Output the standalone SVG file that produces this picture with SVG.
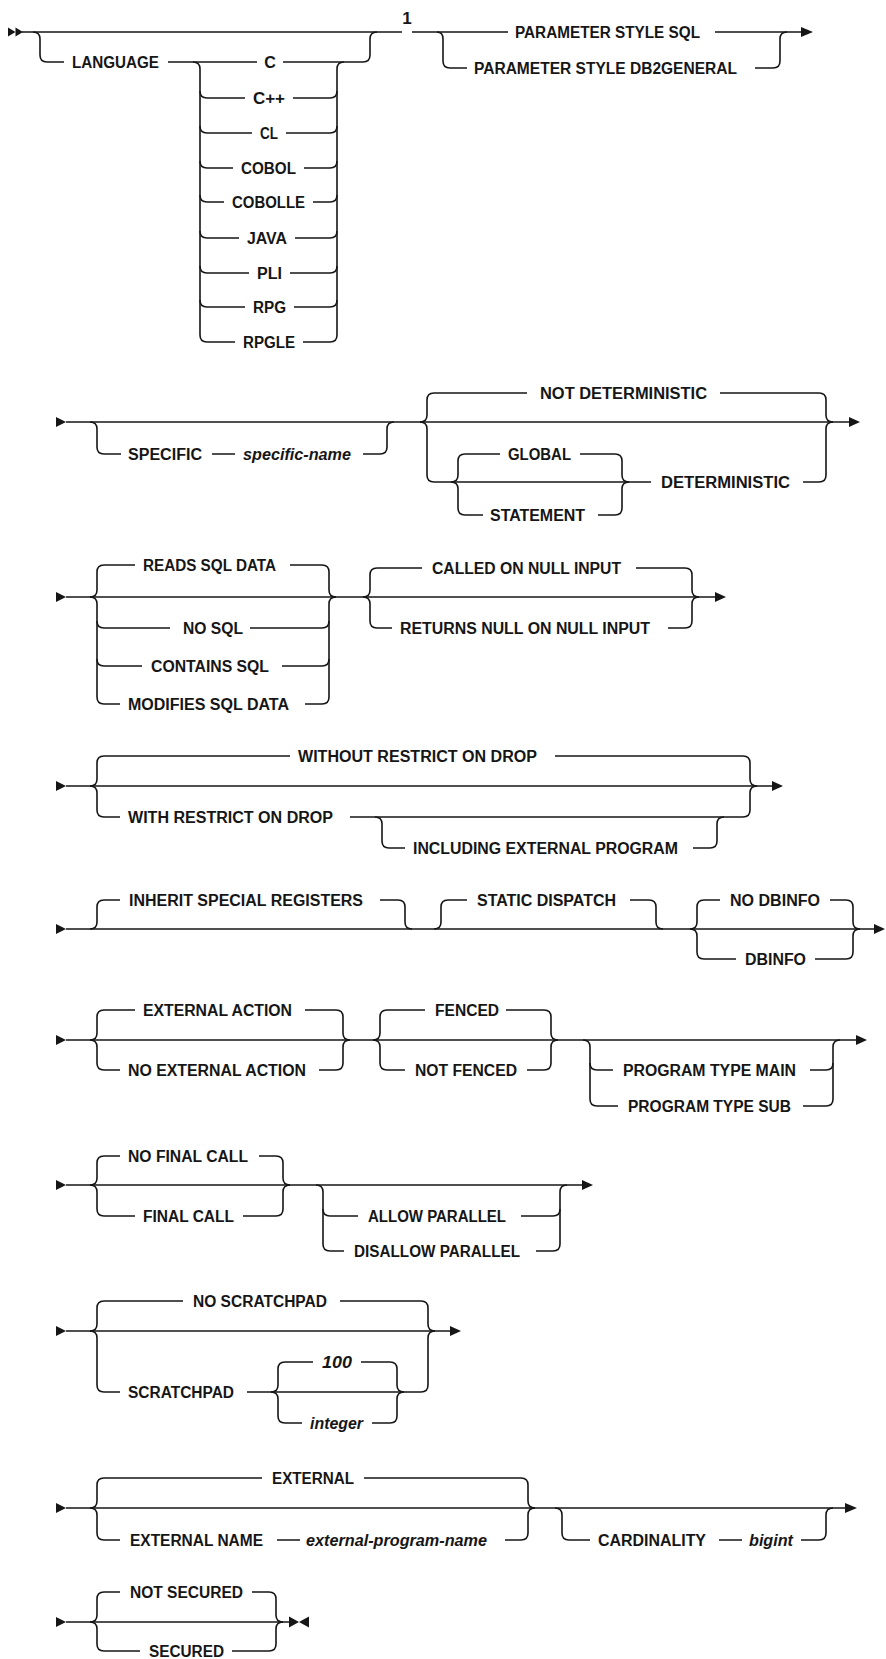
<svg xmlns="http://www.w3.org/2000/svg" width="886" height="1659" viewBox="0 0 886 1659">
<style>
.t{font-family:"Liberation Sans",Arial,sans-serif;font-size:16px;font-weight:bold;fill:#161616;text-anchor:middle}
.i{font-style:italic}
.c{fill:none;stroke:#161616;stroke-width:1.6}
.a{fill:#161616;stroke:none}
</style>
<rect width="886" height="1659" fill="#ffffff"/>
<g id="connectors">
<!-- row 1 -->
<polygon class="a" points="8,27.5 15.5,32 8,36.5"/><polygon class="a" points="15.5,27.5 23,32 15.5,36.5"/>
<path class="c" d="M22,32 H402 M412,32 H508 M715,32 H802"/>
<polygon class="a" points="801,27 813,32 801,37"/>
<path class="c" d="M33,32 Q40,32 40,39 V55 Q40,62 47,62 H64"/>
<path class="c" d="M168,62 H257 M283,62 H363 Q370,62 370,55 V39 Q370,32 377,32"/>
<path class="c" d="M193,62 Q200,62 200,69 V335 Q200,342 207,342 H235"/>
<path class="c" d="M303,342 H330 Q337,342 337,335 V69 Q337,62 344,62"/>
<path class="c" d="M200,91 Q200,98 207,98 H245 M293,98 H330 Q337,98 337,91"/>
<path class="c" d="M200,126 Q200,133 207,133 H252 M286,133 H330 Q337,133 337,126"/>
<path class="c" d="M200,161 Q200,168 207,168 H233 M304,168 H330 Q337,168 337,161"/>
<path class="c" d="M200,195 Q200,202 207,202 H224 M313,202 H330 Q337,202 337,195"/>
<path class="c" d="M200,231 Q200,238 207,238 H239 M295,238 H330 Q337,238 337,231"/>
<path class="c" d="M200,266 Q200,273 207,273 H249 M290,273 H330 Q337,273 337,266"/>
<path class="c" d="M200,300 Q200,307 207,307 H245 M294,307 H330 Q337,307 337,300"/>
<path class="c" d="M437,32 Q443,32 443,39 V61 Q443,68 450,68 H467 M755,68 H773 Q780,68 780,61 V39 Q780,32 787,32"/>
<!-- row 2 -->
<polygon class="a" points="56,417 66,422 56,427"/>
<path class="c" d="M66,422 H849"/>
<polygon class="a" points="849,417 860,422 849,427"/>
<path class="c" d="M90,422 Q97,422 97,429 V447 Q97,454 104,454 H121 M212,454 H235 M363,454 H380 Q387,454 387,447 V429 Q387,422 394,422"/>
<path class="c" d="M420,422 Q427,422 427,415 V400 Q427,393 434,393 H527 M720,393 H819 Q826,393 826,400 V415 Q826,422 833,422"/>
<path class="c" d="M420,422 Q427,422 427,429 V475 Q427,482 434,482 H651 M803,482 H819 Q826,482 826,475 V429 Q826,422 833,422"/>
<path class="c" d="M451,482 Q458,482 458,475 V461 Q458,454 465,454 H500 M580,454 H615 Q622,454 622,461 V475 Q622,482 629,482"/>
<path class="c" d="M451,482 Q458,482 458,489 V508 Q458,515 465,515 H483 M598,515 H615 Q622,515 622,508 V489 Q622,482 629,482"/>
<!-- row 3 -->
<polygon class="a" points="56,592 66,597 56,602"/>
<path class="c" d="M66,597 H715"/>
<polygon class="a" points="715,592 726,597 715,602"/>
<path class="c" d="M90,597 Q97,597 97,590 V572 Q97,565 104,565 H135 M290,565 H322 Q329,565 329,572 V590 Q329,597 336,597"/>
<path class="c" d="M90,597 Q97,597 97,604 V697 Q97,704 104,704 H120 M305,704 H322 Q329,704 329,697 V604 Q329,597 336,597"/>
<path class="c" d="M97,621 Q97,628 104,628 H170 M250,628 H322 Q329,628 329,621"/>
<path class="c" d="M97,659 Q97,666 104,666 H142 M282,666 H322 Q329,666 329,659"/>
<path class="c" d="M363,597 Q370,597 370,590 V575 Q370,568 377,568 H422 M636,568 H685 Q692,568 692,575 V590 Q692,597 699,597"/>
<path class="c" d="M363,597 Q370,597 370,604 V621 Q370,628 377,628 H392 M668,628 H685 Q692,628 692,621 V604 Q692,597 699,597"/>
<!-- row 4 -->
<polygon class="a" points="56,781 66,786 56,791"/>
<path class="c" d="M66,786 H772"/>
<polygon class="a" points="772,781 783,786 772,791"/>
<path class="c" d="M90,786 Q97,786 97,779 V763 Q97,756 104,756 H290 M555,756 H743 Q750,756 750,763 V779 Q750,786 757,786"/>
<path class="c" d="M90,786 Q97,786 97,793 V810 Q97,817 104,817 H120 M350,817 H743 Q750,817 750,810 V793 Q750,786 757,786"/>
<path class="c" d="M375,817 Q382,817 382,824 V841 Q382,848 389,848 H405 M693,848 H710 Q717,848 717,841 V824 Q717,817 724,817"/>
<!-- row 5 -->
<polygon class="a" points="56,924 66,929 56,934"/>
<path class="c" d="M66,929 H874"/>
<polygon class="a" points="874,924 885,929 874,934"/>
<path class="c" d="M90,929 Q97,929 97,922 V907 Q97,900 104,900 H120 M380,900 H398 Q405,900 405,907 V922 Q405,929 412,929"/>
<path class="c" d="M434,929 Q441,929 441,922 V907 Q441,900 448,900 H467 M630,900 H649 Q656,900 656,907 V922 Q656,929 663,929"/>
<path class="c" d="M690,929 Q697,929 697,922 V907 Q697,900 704,900 H720 M830,900 H846 Q853,900 853,907 V922 Q853,929 860,929"/>
<path class="c" d="M690,929 Q697,929 697,936 V952 Q697,959 704,959 H736 M815,959 H846 Q853,959 853,952 V936 Q853,929 860,929"/>
<!-- row 6 -->
<polygon class="a" points="56,1035 66,1040 56,1045"/>
<path class="c" d="M66,1040 H856"/>
<polygon class="a" points="856,1035 867,1040 856,1045"/>
<path class="c" d="M90,1040 Q97,1040 97,1033 V1017 Q97,1010 104,1010 H135 M305,1010 H336 Q343,1010 343,1017 V1033 Q343,1040 350,1040"/>
<path class="c" d="M90,1040 Q97,1040 97,1047 V1063 Q97,1070 104,1070 H120 M319,1070 H336 Q343,1070 343,1063 V1047 Q343,1040 350,1040"/>
<path class="c" d="M373,1040 Q380,1040 380,1033 V1017 Q380,1010 387,1010 H425 M506,1010 H544 Q551,1010 551,1017 V1033 Q551,1040 558,1040"/>
<path class="c" d="M373,1040 Q380,1040 380,1047 V1063 Q380,1070 387,1070 H405 M527,1070 H544 Q551,1070 551,1063 V1047 Q551,1040 558,1040"/>
<path class="c" d="M583,1040 Q590,1040 590,1047 V1099 Q590,1106 597,1106 H618 M803,1106 H826 Q833,1106 833,1099 V1047 Q833,1040 840,1040"/>
<path class="c" d="M590,1063 Q590,1070 597,1070 H613 M810,1070 H826 Q833,1070 833,1063"/>
<!-- row 7 -->
<polygon class="a" points="56,1180 66,1185 56,1190"/>
<path class="c" d="M66,1185 H582"/>
<polygon class="a" points="582,1180 593,1185 582,1190"/>
<path class="c" d="M90,1185 Q97,1185 97,1178 V1163 Q97,1156 104,1156 H120 M259,1156 H276 Q283,1156 283,1163 V1178 Q283,1185 290,1185"/>
<path class="c" d="M90,1185 Q97,1185 97,1192 V1209 Q97,1216 104,1216 H135 M243,1216 H276 Q283,1216 283,1209 V1192 Q283,1185 290,1185"/>
<path class="c" d="M316,1185 Q323,1185 323,1192 V1244 Q323,1251 330,1251 H344 M536,1251 H553 Q560,1251 560,1244 V1192 Q560,1185 567,1185"/>
<path class="c" d="M323,1209 Q323,1216 330,1216 H358 M521,1216 H553 Q560,1216 560,1209"/>
<!-- row 8 -->
<polygon class="a" points="56,1326 66,1331 56,1336"/>
<path class="c" d="M66,1331 H450"/>
<polygon class="a" points="450,1326 461,1331 450,1336"/>
<path class="c" d="M90,1331 Q97,1331 97,1324 V1308 Q97,1301 104,1301 H183 M340,1301 H421 Q428,1301 428,1308 V1324 Q428,1331 435,1331"/>
<path class="c" d="M90,1331 Q97,1331 97,1338 V1385 Q97,1392 104,1392 H120 M247,1392 H421 Q428,1392 428,1385 V1338 Q428,1331 435,1331"/>
<path class="c" d="M271,1392 Q278,1392 278,1385 V1369 Q278,1362 285,1362 H313 M361,1362 H390 Q397,1362 397,1369 V1385 Q397,1392 404,1392"/>
<path class="c" d="M271,1392 Q278,1392 278,1399 V1416 Q278,1423 285,1423 H302 M372,1423 H390 Q397,1423 397,1416 V1399 Q397,1392 404,1392"/>
<!-- row 9 -->
<polygon class="a" points="56,1503 66,1508 56,1513"/>
<path class="c" d="M66,1508 H845"/>
<polygon class="a" points="845,1503 857,1508 845,1513"/>
<path class="c" d="M90,1508 Q97,1508 97,1501 V1485 Q97,1478 104,1478 H262 M364,1478 H521 Q528,1478 528,1485 V1501 Q528,1508 535,1508"/>
<path class="c" d="M90,1508 Q97,1508 97,1515 V1533 Q97,1540 104,1540 H120 M277,1540 H300 M505,1540 H521 Q528,1540 528,1533 V1515 Q528,1508 535,1508"/>
<path class="c" d="M555,1508 Q562,1508 562,1515 V1533 Q562,1540 569,1540 H590 M719,1540 H742 M801,1540 H819 Q826,1540 826,1533 V1515 Q826,1508 833,1508"/>
<!-- row 10 -->
<polygon class="a" points="56,1617 66,1622 56,1627"/>
<path class="c" d="M66,1622 H290"/>
<path class="c" d="M90,1622 Q97,1622 97,1615 V1599 Q97,1592 104,1592 H120 M252,1592 H269 Q276,1592 276,1599 V1615 Q276,1622 283,1622"/>
<path class="c" d="M90,1622 Q97,1622 97,1629 V1644 Q97,1651 104,1651 H140 M232,1651 H269 Q276,1651 276,1644 V1629 Q276,1622 283,1622"/>
<polygon class="a" points="289,1616.5 299,1622 289,1627.5"/><polygon class="a" points="309,1616.5 299,1622 309,1627.5"/>
</g>
<g id="n-language"><text class="t" x="115.5" y="68" textLength="87" lengthAdjust="spacingAndGlyphs">LANGUAGE</text></g>
<g id="n-c"><text class="t" x="270" y="68">C</text></g>
<g id="n-cpp"><text class="t" x="269" y="104" textLength="32" lengthAdjust="spacingAndGlyphs">C++</text></g>
<g id="n-cl"><text class="t" x="269" y="139" textLength="18" lengthAdjust="spacingAndGlyphs">CL</text></g>
<g id="n-cobol"><text class="t" x="268.5" y="174" textLength="55" lengthAdjust="spacingAndGlyphs">COBOL</text></g>
<g id="n-cobolle"><text class="t" x="268.5" y="208" textLength="73" lengthAdjust="spacingAndGlyphs">COBOLLE</text></g>
<g id="n-java"><text class="t" x="267" y="244" textLength="40" lengthAdjust="spacingAndGlyphs">JAVA</text></g>
<g id="n-pli"><text class="t" x="269.5" y="279" textLength="25" lengthAdjust="spacingAndGlyphs">PLI</text></g>
<g id="n-rpg"><text class="t" x="269.5" y="313" textLength="33" lengthAdjust="spacingAndGlyphs">RPG</text></g>
<g id="n-rpgle"><text class="t" x="269" y="348" textLength="52" lengthAdjust="spacingAndGlyphs">RPGLE</text></g>
<g id="n-note1"><text class="t" x="407" y="24" style="font-size:17px">1</text></g>
<g id="n-pssql"><text class="t" x="607.5" y="38" textLength="185" lengthAdjust="spacingAndGlyphs">PARAMETER STYLE SQL</text></g>
<g id="n-psdb2"><text class="t" x="605.5" y="74" textLength="263" lengthAdjust="spacingAndGlyphs">PARAMETER STYLE DB2GENERAL</text></g>
<g id="n-specific"><text class="t" x="165" y="460" textLength="74" lengthAdjust="spacingAndGlyphs">SPECIFIC</text></g>
<g id="n-specific-name"><text class="t i" x="297" y="460" textLength="108" lengthAdjust="spacingAndGlyphs">specific-name</text></g>
<g id="n-notdet"><text class="t" x="623.5" y="399" textLength="167" lengthAdjust="spacingAndGlyphs">NOT DETERMINISTIC</text></g>
<g id="n-global"><text class="t" x="539.5" y="460" textLength="63" lengthAdjust="spacingAndGlyphs">GLOBAL</text></g>
<g id="n-statement"><text class="t" x="537.5" y="521" textLength="95" lengthAdjust="spacingAndGlyphs">STATEMENT</text></g>
<g id="n-det"><text class="t" x="725.5" y="488" textLength="129" lengthAdjust="spacingAndGlyphs">DETERMINISTIC</text></g>
<g id="n-reads"><text class="t" x="209.5" y="571" textLength="133" lengthAdjust="spacingAndGlyphs">READS SQL DATA</text></g>
<g id="n-nosql"><text class="t" x="213" y="634" textLength="60" lengthAdjust="spacingAndGlyphs">NO SQL</text></g>
<g id="n-contains"><text class="t" x="210" y="672" textLength="118" lengthAdjust="spacingAndGlyphs">CONTAINS SQL</text></g>
<g id="n-modifies"><text class="t" x="208.5" y="710" textLength="161" lengthAdjust="spacingAndGlyphs">MODIFIES SQL DATA</text></g>
<g id="n-called"><text class="t" x="526.5" y="574" textLength="189" lengthAdjust="spacingAndGlyphs">CALLED ON NULL INPUT</text></g>
<g id="n-returns"><text class="t" x="525" y="634" textLength="250" lengthAdjust="spacingAndGlyphs">RETURNS NULL ON NULL INPUT</text></g>
<g id="n-without"><text class="t" x="417.5" y="762" textLength="239" lengthAdjust="spacingAndGlyphs">WITHOUT RESTRICT ON DROP</text></g>
<g id="n-with"><text class="t" x="230.5" y="823" textLength="205" lengthAdjust="spacingAndGlyphs">WITH RESTRICT ON DROP</text></g>
<g id="n-including"><text class="t" x="545.5" y="854" textLength="265" lengthAdjust="spacingAndGlyphs">INCLUDING EXTERNAL PROGRAM</text></g>
<g id="n-inherit"><text class="t" x="246" y="906" textLength="234" lengthAdjust="spacingAndGlyphs">INHERIT SPECIAL REGISTERS</text></g>
<g id="n-static"><text class="t" x="546.5" y="906" textLength="139" lengthAdjust="spacingAndGlyphs">STATIC DISPATCH</text></g>
<g id="n-nodbinfo"><text class="t" x="775" y="906" textLength="90" lengthAdjust="spacingAndGlyphs">NO DBINFO</text></g>
<g id="n-dbinfo"><text class="t" x="775.5" y="965" textLength="61" lengthAdjust="spacingAndGlyphs">DBINFO</text></g>
<g id="n-extaction"><text class="t" x="217.5" y="1016" textLength="149" lengthAdjust="spacingAndGlyphs">EXTERNAL ACTION</text></g>
<g id="n-noextaction"><text class="t" x="217" y="1076" textLength="178" lengthAdjust="spacingAndGlyphs">NO EXTERNAL ACTION</text></g>
<g id="n-fenced"><text class="t" x="467" y="1016" textLength="64" lengthAdjust="spacingAndGlyphs">FENCED</text></g>
<g id="n-notfenced"><text class="t" x="466" y="1076" textLength="102" lengthAdjust="spacingAndGlyphs">NOT FENCED</text></g>
<g id="n-ptmain"><text class="t" x="709.5" y="1076" textLength="173" lengthAdjust="spacingAndGlyphs">PROGRAM TYPE MAIN</text></g>
<g id="n-ptsub"><text class="t" x="709.5" y="1112" textLength="163" lengthAdjust="spacingAndGlyphs">PROGRAM TYPE SUB</text></g>
<g id="n-nofinal"><text class="t" x="188" y="1162" textLength="120" lengthAdjust="spacingAndGlyphs">NO FINAL CALL</text></g>
<g id="n-final"><text class="t" x="188.5" y="1222" textLength="91" lengthAdjust="spacingAndGlyphs">FINAL CALL</text></g>
<g id="n-allow"><text class="t" x="437" y="1222" textLength="138" lengthAdjust="spacingAndGlyphs">ALLOW PARALLEL</text></g>
<g id="n-disallow"><text class="t" x="437" y="1257" textLength="166" lengthAdjust="spacingAndGlyphs">DISALLOW PARALLEL</text></g>
<g id="n-noscratch"><text class="t" x="260" y="1307" textLength="134" lengthAdjust="spacingAndGlyphs">NO SCRATCHPAD</text></g>
<g id="n-scratch"><text class="t" x="181" y="1398" textLength="106" lengthAdjust="spacingAndGlyphs">SCRATCHPAD</text></g>
<g id="n-100"><text class="t i" x="337" y="1368" textLength="30" lengthAdjust="spacingAndGlyphs">100</text></g>
<g id="n-integer"><text class="t i" x="336.5" y="1429" textLength="53" lengthAdjust="spacingAndGlyphs">integer</text></g>
<g id="n-external"><text class="t" x="313" y="1484" textLength="82" lengthAdjust="spacingAndGlyphs">EXTERNAL</text></g>
<g id="n-extname"><text class="t" x="196.5" y="1546" textLength="133" lengthAdjust="spacingAndGlyphs">EXTERNAL NAME</text></g>
<g id="n-extprog"><text class="t i" x="396.5" y="1546" textLength="181" lengthAdjust="spacingAndGlyphs">external-program-name</text></g>
<g id="n-card"><text class="t" x="652" y="1546" textLength="108" lengthAdjust="spacingAndGlyphs">CARDINALITY</text></g>
<g id="n-bigint"><text class="t i" x="771" y="1546" textLength="44" lengthAdjust="spacingAndGlyphs">bigint</text></g>
<g id="n-notsecured"><text class="t" x="186.5" y="1598" textLength="113" lengthAdjust="spacingAndGlyphs">NOT SECURED</text></g>
<g id="n-secured"><text class="t" x="186.5" y="1657" textLength="75" lengthAdjust="spacingAndGlyphs">SECURED</text></g>
</svg>
